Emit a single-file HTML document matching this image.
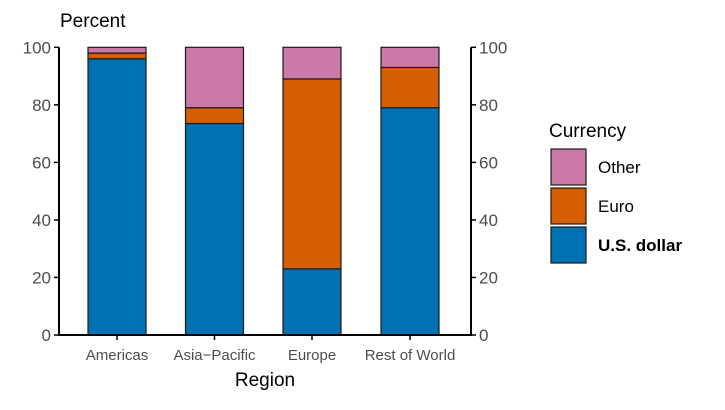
<!DOCTYPE html>
<html><head><meta charset="utf-8"><style>
body{margin:0;background:#fff}
text{font-family:"Liberation Sans",sans-serif}
</style></head><body>
<svg width="725" height="405" xmlns="http://www.w3.org/2000/svg">
<g id="g"></g>
</svg>
<script>
const categories=["Americas","Asia\u2212Pacific","Europe","Rest of World"];
const usd=[96,73.5,23,79];
const euro=[2,5.5,66,14];
const other=[2,21,11,7];
const ticks=[0,20,40,60,80,100];
const NS="http://www.w3.org/2000/svg";
const g=document.getElementById('g');
const y0=335,y100=47.3;
const y=v=>y0-(y0-y100)*v/100;
const xc=[117,214.5,312,410],bw=58;
function el(t,a,txt){const e=document.createElementNS(NS,t);for(const k in a)e.setAttribute(k,a[k]);if(txt!==undefined)e.textContent=txt;g.appendChild(e);return e;}
const cols={usd:"#0072b2",euro:"#d55e00",other:"#cc79a7"};
categories.forEach((c,i)=>{
  let base=0;
  [["usd",usd[i]],["euro",euro[i]],["other",other[i]]].forEach(([k,v])=>{
    const r=el('rect',{x:xc[i]-bw/2,y:y(base+v),width:bw,height:y(base)-y(base+v),fill:cols[k],stroke:"#1a1a1a","stroke-width":1.2});
    
    
    base+=v;
  });
  const t=el('text',{x:xc[i],y:360,'text-anchor':'middle','font-size':15,fill:'#4d4d4d'},c);
  
  
});
// axes
el('line',{x1:59,y1:y100,x2:59,y2:y0+1,stroke:'#000','stroke-width':2});
el('line',{x1:471,y1:y100,x2:471,y2:y0+1,stroke:'#000','stroke-width':2});
el('line',{x1:58,y1:y0,x2:472,y2:y0,stroke:'#000','stroke-width':2});
ticks.forEach(v=>{
  el('line',{x1:54,y1:y(v),x2:59,y2:y(v),stroke:'#000','stroke-width':1.5});
  el('line',{x1:471,y1:y(v),x2:476,y2:y(v),stroke:'#000','stroke-width':1.5});
  const a=el('text',{x:51,y:y(v)+6,'text-anchor':'end','font-size':17,fill:'#4d4d4d'},v);
  
  const b=el('text',{x:479,y:y(v)+6,'font-size':17,fill:'#4d4d4d'},v);
  
});
xc.forEach(x=>el('line',{x1:x,y1:y0,x2:x,y2:y0+5,stroke:'#000','stroke-width':1.5}));
el('text',{x:60,y:27,'font-size':19},'Percent');
el('text',{x:265,y:386,'text-anchor':'middle','font-size':19},'Region');
// legend
el('text',{x:549,y:137,'font-size':19},'Currency');
[["other","Other",149],["euro","Euro",188],["usd","U.S. dollar",227]].forEach(([k,l,yy])=>{
  const r=el('rect',{x:551,y:yy,width:35,height:36,fill:cols[k],stroke:'#1a1a1a','stroke-width':1.2});
  
  const t=el('text',{x:598,y:yy+24,'font-size':17,'font-weight':k==='usd'?'bold':'normal'},l);
  
});
</script>
</body></html>
